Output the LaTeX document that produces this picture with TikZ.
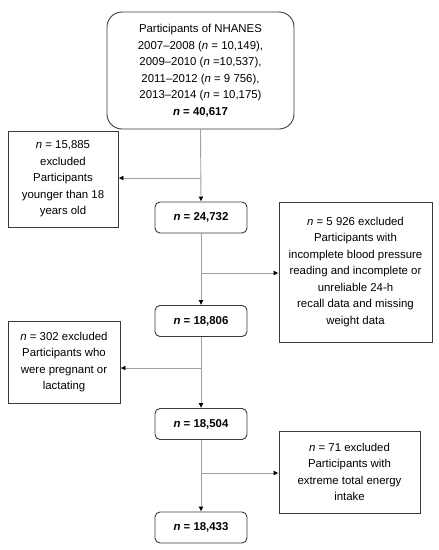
\documentclass[tikz,border=0pt]{standalone}
\usepackage{fontspec}
\setmainfont{Liberation Sans}
\usetikzlibrary{arrows.meta}
\definecolor{linegray}{HTML}{A0A0A0}
\definecolor{boxgray}{HTML}{3A3A3A}
\begin{document}
\begin{tikzpicture}[x=1pt,y=-1pt,
  box/.style={draw=boxgray,line width=0.9pt,align=center,inner sep=0pt,
    font=\fontsize{11.4}{16.5}\selectfont},
  rbox/.style={box,rounded corners=5pt,minimum width=92pt,minimum height=31pt},
  arr/.style={draw=linegray,line width=0.9pt,-{Latex[length=5pt,width=5pt,color=black]}}]
\useasboundingbox (0,0) rectangle (439,550);
\node[box,rounded corners=15pt,minimum width=187pt,minimum height=117pt] (top) at (200.5,70.5)
  {Participants of NHANES\\2007–2008 (\textit{n} = 10,149),\\2009–2010 (\textit{n} =10,537),\\2011–2012 (\textit{n} = 9 756),\\2013–2014 (\textit{n} = 10,175)\\\textbf{\textit{n} = 40,617}};
\node[rbox] (n1) at (201,217.5) {\textbf{\textit{n} = 24,732}};
\node[rbox] (n2) at (201,321) {\textbf{\textit{n} = 18,806}};
\node[rbox] (n3) at (201,424) {\textbf{\textit{n} = 18,504}};
\node[rbox] (n4) at (201,527.5) {\textbf{\textit{n} = 18,433}};
\node[box,minimum width=110pt,minimum height=96pt] (l1) at (63,179)
  {\textit{n} = 15,885\\excluded\\Participants\\younger than 18\\years old};
\node[box,minimum width=153pt,minimum height=140pt] (r1) at (355.5,272)
  {\textit{n} = 5 926 excluded\\Participants with\\incomplete blood pressure\\reading and incomplete or\\unreliable 24-h\\recall data and missing\\weight data};
\node[box,minimum width=112pt,minimum height=82pt] (l2) at (64,362)
  {\textit{n} = 302 excluded\\Participants who\\were pregnant or\\lactating};
\node[box,minimum width=141pt,minimum height=82pt] (r2) at (349.5,472)
  {\textit{n} = 71 excluded\\Participants with\\extreme total energy\\intake};
\coordinate (b1) at (201,178);
\coordinate (b2) at (201,273);
\coordinate (b3) at (201,368);
\coordinate (b4) at (201,473);
\draw[arr] (top.south) -- (n1.north);
\draw[arr] (n1.south) -- (n2.north);
\draw[arr] (n2.south) -- (n3.north);
\draw[arr] (n3.south) -- (n4.north);
\draw[arr] (b1) -- (b1 -| l1.east);
\draw[arr] (b2) -- (b2 -| r1.west);
\draw[arr] (b3) -- (b3 -| l2.east);
\draw[arr] (b4) -- (b4 -| r2.west);
\end{tikzpicture}
\end{document}
